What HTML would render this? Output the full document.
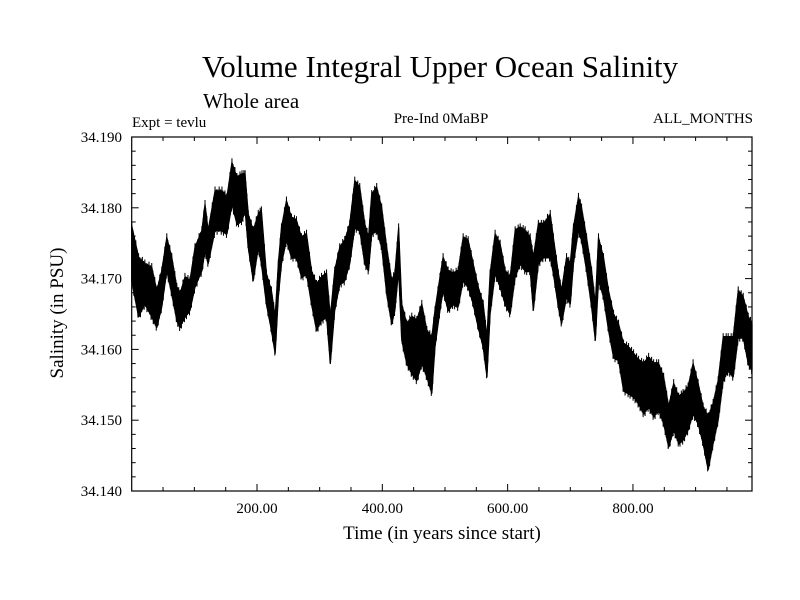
<!DOCTYPE html>
<html><head><meta charset="utf-8"><style>
html,body{margin:0;padding:0;background:#fff;}
svg{display:block;font-family:"Liberation Serif",serif;}
</style></head><body>
<svg id="chart" width="800" height="600" viewBox="0 0 800 600">
<rect width="800" height="600" fill="#fff"/>
<text x="440" y="77" font-size="31" text-anchor="middle">Volume Integral Upper Ocean Salinity</text>
<text x="203" y="108" font-size="21">Whole area</text>
<text x="132" y="127" font-size="15">Expt = tevlu</text>
<text x="441" y="123" font-size="15" text-anchor="middle">Pre-Ind 0MaBP</text>
<text x="753" y="123" font-size="15" text-anchor="end">ALL_MONTHS</text>
<text x="442" y="539" font-size="19" text-anchor="middle">Time (in years since start)</text>
<text transform="translate(63,313) rotate(-90)" font-size="19" text-anchor="middle">Salinity (in PSU)</text>
<g id="axes"></g>
<g id="series"></g>
</svg>
<script>
const years=[0,11,21,32,40,48,56,64,72,77,85,93,101,112,117,122,133,144,152,160,168,176,181,186,194,202,207,215,223,229,234,239,247,255,263,271,279,287,295,303,311,317,324,332,340,348,356,364,372,378,383,391,399,407,415,420,426,431,439,447,455,463,471,479,484,492,497,505,513,521,529,537,545,553,561,567,572,580,588,596,604,612,620,628,636,641,649,657,668,673,681,686,694,700,705,713,718,726,734,740,745,753,761,769,777,785,793,801,809,817,825,833,841,849,857,865,873,880,888,896,904,912,920,928,936,944,952,960,968,976,984,990];
const highVals=[34.1775,34.1730,34.1721,34.1716,34.1683,34.1711,34.1758,34.1730,34.1688,34.1678,34.1702,34.1697,34.1744,34.1768,34.1805,34.1768,34.1824,34.1824,34.1815,34.1864,34.1843,34.1847,34.1847,34.1791,34.1768,34.1791,34.1796,34.1707,34.1683,34.1646,34.1721,34.1772,34.1810,34.1786,34.1782,34.1758,34.1763,34.1711,34.1692,34.1702,34.1707,34.1646,34.1711,34.1744,34.1754,34.1777,34.1838,34.1829,34.1777,34.1758,34.1819,34.1829,34.1800,34.1744,34.1697,34.1707,34.1772,34.1664,34.1636,34.1646,34.1641,34.1664,34.1627,34.1617,34.1655,34.1702,34.1730,34.1711,34.1707,34.1711,34.1758,34.1754,34.1721,34.1688,34.1664,34.1617,34.1707,34.1763,34.1749,34.1711,34.1702,34.1768,34.1772,34.1768,34.1758,34.1730,34.1777,34.1777,34.1791,34.1758,34.1707,34.1683,34.1730,34.1721,34.1772,34.1815,34.1800,34.1758,34.1711,34.1664,34.1758,34.1730,34.1683,34.1650,34.1636,34.1608,34.1603,34.1594,34.1585,34.1580,34.1589,34.1580,34.1580,34.1561,34.1519,34.1552,34.1533,34.1538,34.1547,34.1580,34.1552,34.1519,34.1505,34.1524,34.1556,34.1617,34.1617,34.1617,34.1683,34.1674,34.1646,34.1636];
const lowVals=[34.1697,34.1646,34.1664,34.1646,34.1631,34.1660,34.1711,34.1678,34.1641,34.1631,34.1646,34.1655,34.1688,34.1711,34.1739,34.1721,34.1768,34.1768,34.1763,34.1805,34.1777,34.1782,34.1796,34.1744,34.1697,34.1744,34.1721,34.1664,34.1627,34.1594,34.1674,34.1721,34.1754,34.1730,34.1730,34.1702,34.1707,34.1664,34.1627,34.1641,34.1646,34.1580,34.1655,34.1692,34.1697,34.1721,34.1772,34.1768,34.1721,34.1711,34.1763,34.1768,34.1744,34.1678,34.1636,34.1655,34.1711,34.1613,34.1580,34.1566,34.1556,34.1580,34.1561,34.1538,34.1603,34.1655,34.1683,34.1655,34.1664,34.1660,34.1697,34.1688,34.1664,34.1631,34.1603,34.1561,34.1650,34.1707,34.1688,34.1664,34.1650,34.1702,34.1721,34.1711,34.1711,34.1655,34.1721,34.1730,34.1730,34.1707,34.1660,34.1636,34.1674,34.1664,34.1721,34.1768,34.1754,34.1711,34.1660,34.1613,34.1697,34.1674,34.1627,34.1589,34.1585,34.1542,34.1538,34.1533,34.1523,34.1509,34.1519,34.1505,34.1514,34.1495,34.1462,34.1486,34.1467,34.1472,34.1486,34.1509,34.1495,34.1467,34.1430,34.1467,34.1500,34.1556,34.1570,34.1561,34.1617,34.1617,34.1580,34.1570];
const yTickVals=[34.140,34.150,34.160,34.170,34.180,34.190];
const yTickLabels=["34.140","34.150","34.160","34.170","34.180","34.190"];
const xTickVals=[200,400,600,800];
const xTickLabels=["200.00","400.00","600.00","800.00"];

const L=131.7,R=752,T=137,B=491,X0=0,X1=990,Y0=34.140,Y1=34.190;
const sx=v=>L+(v-X0)/(X1-X0)*(R-L);
const sy=v=>B-(v-Y0)/(Y1-Y0)*(B-T);
const NS='http://www.w3.org/2000/svg';
const axes=document.getElementById('axes');
function mk(tag,attrs,parent){const e=document.createElementNS(NS,tag);for(const k in attrs)e.setAttribute(k,attrs[k]);parent.appendChild(e);return e;}

const frame=mk('rect',{x:L,y:T,width:R-L,height:B-T,fill:'none',stroke:'#000','stroke-width':1.2},axes);



for(let i=0;i<=25;i++){
  const v=Y0+i*0.002;const y=sy(v);const len=(i%5===0)?7:4;
  const t1=mk('line',{x1:L,y1:y,x2:L+len,y2:y,stroke:'#000','stroke-width':1},axes);
  
  
  const t2=mk('line',{x1:R,y1:y,x2:R-len,y2:y,stroke:'#000','stroke-width':1},axes);
  
  
}
yTickVals.forEach((v,i)=>{
  const t=mk('text',{x:122,y:sy(v)+5,'font-size':15,'text-anchor':'end'},axes);
  t.textContent=yTickLabels[i];
  
  
});
for(let v=50;v<X1;v+=50){
  const x=sx(v);const len=(v%200===0)?7:4;
  const t1=mk('line',{x1:x,y1:B,x2:x,y2:B-len,stroke:'#000','stroke-width':1},axes);
  
  
  const t2=mk('line',{x1:x,y1:T,x2:x,y2:T+len,stroke:'#000','stroke-width':1},axes);
  
  
}
xTickVals.forEach((v,i)=>{
  const t=mk('text',{x:sx(v),y:513,'font-size':15,'text-anchor':'middle'},axes);
  t.textContent=xTickLabels[i];
  
  
});

const series=document.getElementById('series');
let band='';
for(let i=0;i<years.length;i++)band+=(i?'L':'M')+sx(years[i]).toFixed(2)+','+sy(highVals[i]).toFixed(2);
for(let i=years.length-1;i>=0;i--)band+='L'+sx(years[i]).toFixed(2)+','+sy(lowVals[i]).toFixed(2);
band+='Z';
const bp=mk('path',{d:band,fill:'#000',stroke:'#000','stroke-width':1.2,'stroke-linejoin':'round'},series);


let zz='';
const sub=10;
for(let i=0;i<years.length-1;i++){
  for(let k=0;k<sub;k++){
    const f=k/sub;
    const yr=years[i]+(years[i+1]-years[i])*f;
    const hi=highVals[i]+(highVals[i+1]-highVals[i])*f;
    const lo=lowVals[i]+(lowVals[i+1]-lowVals[i])*f;
    const pad=(k%3===0)?0.0006:0.0002;
    const v=(k%2===0)?hi+pad:lo-pad;
    zz+=(zz?'L':'M')+sx(yr).toFixed(2)+','+sy(v).toFixed(2);
  }
}
zz+='L'+sx(years[years.length-1]).toFixed(2)+','+sy(lowVals[lowVals.length-1]).toFixed(2);
const zp=mk('path',{d:zz,fill:'none',stroke:'#000','stroke-width':1},series);


</script>
</body></html>
